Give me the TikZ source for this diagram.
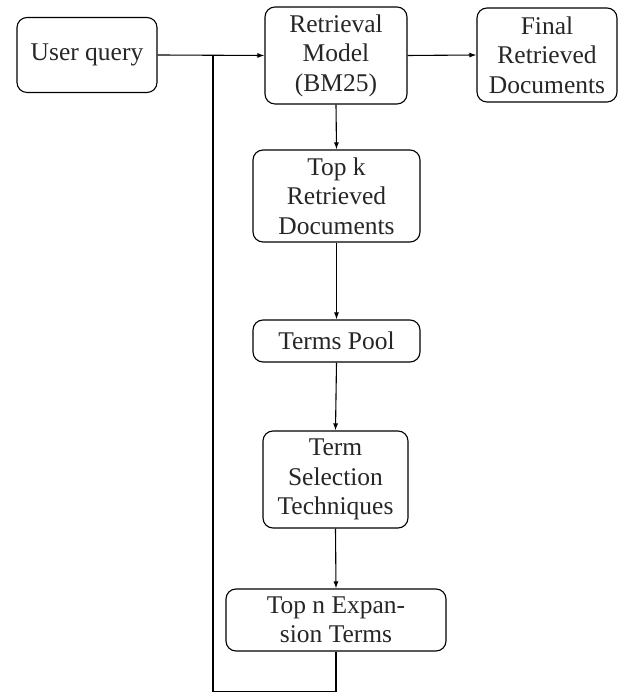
\documentclass[tikz,border=0pt]{standalone}
\usepackage{fontspec}
\setmainfont{Liberation Serif}
\usetikzlibrary{arrows.meta}
\begin{document}
\begin{tikzpicture}[x=1pt,y=1pt,
  box/.style={draw, line width=1.1pt, rounded corners=10pt, align=center, inner sep=0pt,
    font=\fontsize{25.5}{29.5}\selectfont, text=black!85},
  arr/.style={line width=1.1pt, -{Latex[length=7pt,width=5pt]}},
  ln/.style={line width=1.1pt}]
\useasboundingbox (0,0) rectangle (619,693);
\node[box, minimum width=140pt, minimum height=75pt] (uq) at (87,638) {User query};
\node[box, minimum width=142pt, minimum height=97pt] (rm) at (336,637.5) {Retrieval\\Model\\(BM25)};
\node[box, minimum width=140pt, minimum height=94pt] (fd) at (547,638) {Final\\Retrieved\\Documents};
\node[box, minimum width=167pt, minimum height=92pt] (tk) at (336.5,497) {Top k\\Retrieved\\Documents};
\node[box, minimum width=167pt, minimum height=42pt] (tp) at (336.5,352) {Terms Pool};
\node[box, minimum width=145pt, minimum height=97pt] (ts) at (335.5,213.5) {Term\\Selection\\Techniques};
\node[box, minimum width=220pt, minimum height=62pt] (tn) at (336,73) {Top n Expan-\\sion Terms};
\coordinate (jn) at (213,638);
\coordinate (bl) at (213,1.5);
\draw[arr] (uq.east) -- (rm.west);
\draw[arr] (rm.east) -- (fd.west);
\draw[arr] (rm.south) -- (tk.north);
\draw[arr] (tk.south) -- (tp.north);
\draw[arr] (tp.south) -- (ts.north);
\draw[arr] (ts.south) -- (tn.north);
\draw[ln] (tn.south) |- (bl) -- (jn);
\end{tikzpicture}
\end{document}
